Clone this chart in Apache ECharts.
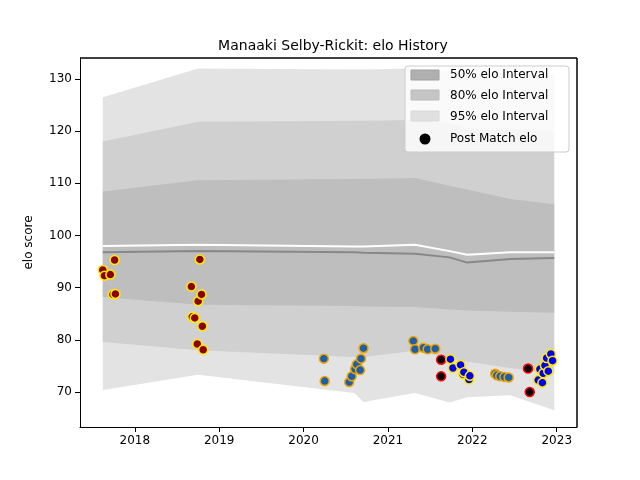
<!DOCTYPE html>
<html><head><meta charset="utf-8">
<script src="https://cdn.jsdelivr.net/npm/echarts@6/dist/echarts.min.js"></script>
<style>html,body{margin:0;background:#fff}#c{width:640px;height:480px}</style>
</head><body><div id="c"></div>
<script>
const bandX = [2017.62, 2018.75, 2020.60, 2020.71, 2021.32, 2021.73, 2021.94, 2022.45, 2022.97];
const up95 = [126.5,132,131.8,131.8,132,131.5,131,131,131];
const up80 = [118,121.8,122,122,122.1,121.5,120.5,120.5,120];
const up50 = [108.4,110.6,110.8,110.8,111,109.5,108.8,107,106];
const median = [96.8,97.0,96.8,96.7,96.5,95.8,94.8,95.5,95.7];
const meanLine = [98.0,98.2,97.9,97.9,98.2,97.0,96.3,96.8,96.8];
const lo50 = [88.2,86.7,86.5,86.4,86.3,85.8,85.6,85.4,85.2];
const lo80 = [79.6,78,76.7,76.7,77.9,76.5,75.8,74.6,73.6];
const lo95 = [70.4,73.3,69.8,68.1,69.8,68,69,69.4,66.5];
const ptsA = [[2017.62,93.4],[2017.64,92.3],[2017.71,92.5],[2017.74,88.7],[2017.77,88.8],[2017.76,95.3],[2018.67,90.2],[2018.68,84.4],[2018.71,84.2],[2018.74,79.2],[2018.75,87.4],[2018.77,95.4],[2018.79,88.7],[2018.8,82.6],[2018.81,78.1]];
const ptsB = [[2020.24,76.4],[2020.25,72.1],[2020.54,71.9],[2020.57,73.0],[2020.61,74.4],[2020.63,75.3],[2020.67,74.2],[2020.68,76.4],[2020.71,78.4],[2021.3,79.8],[2021.32,78.2],[2021.42,78.5],[2021.47,78.2],[2021.56,78.3],[2022.27,73.5],[2022.29,73.2],[2022.33,73.0],[2022.38,72.9],[2022.43,72.8]];
const ptsC = [[2021.63,76.2],[2021.63,73.0],[2022.66,74.5],[2022.68,70.0]];
const ptsD = [[2021.74,76.3],[2021.77,74.6],[2021.86,75.2],[2021.89,73.4],[2021.9,73.8],[2021.96,72.4],[2021.97,73.1],[2022.78,72.3],[2022.8,74.4],[2022.83,71.8],[2022.84,73.6],[2022.86,75.1],[2022.88,76.5],[2022.9,74.0],[2022.93,77.3],[2022.95,76.0]];
const xTicks = [2018,2019,2020,2021,2022,2023];
const yTicks = [70,80,90,100,110,120,130];

function band(lo, hi, color, name){
  return {type:'custom', name, silent:true, z:1, data:[0], renderItem(p, api){
    const pts=[];
    bandX.forEach((x,i)=>pts.push(api.coord([x,hi[i]])));
    for(let i=bandX.length-1;i>=0;i--) pts.push(api.coord([bandX[i],lo[i]]));
    return {type:'polygon', shape:{points:pts}, style:{fill:color}};
  }};
}
function line(vals,color,w){
  return {type:'line', data:bandX.map((x,i)=>[x,vals[i]]), symbol:'none', lineStyle:{color, width:w}, z:3, silent:true};
}
function sc(d, fill, edge){
  return {type:'scatter', data:d, symbolSize:9, itemStyle:{color:fill, borderColor:edge, borderWidth:1.5, opacity:1}, z:5};
}
const ax = {color:'#000', fontSize:12, fontFamily:'DejaVu Sans'};
const chart = echarts.init(document.getElementById('c'));
chart.setOption({
  animation:false,
  title:{text:'Manaaki Selby-Rickit: elo History', left:328, top:34, textAlign:'center', textStyle:{fontSize:14, fontWeight:'normal', fontFamily:'DejaVu Sans', color:'#000'}},
  grid:{left:80, right:63, top:58, bottom:53},
  xAxis:{type:'value', min:2017.35, max:2023.24, splitLine:{show:false},
    axisLine:{onZero:false, lineStyle:{color:'#000'}}, axisTick:{customValues:xTicks, lineStyle:{color:'#000'}},
    axisLabel:Object.assign({customValues:xTicks, formatter:v=>String(v)}, ax)},
  yAxis:{type:'value', min:63.3, max:134, name:'elo score', nameLocation:'middle', nameGap:45, nameTextStyle:ax,
    splitLine:{show:false}, axisLine:{show:true, lineStyle:{color:'#000'}}, axisTick:{show:true, customValues:yTicks, lineStyle:{color:'#000'}},
    axisLabel:Object.assign({customValues:yTicks}, ax)},
  graphic:[
    {type:'rect', shape:{x:577,y:58,width:0,height:369}, style:{stroke:'#000',fill:'none'}, z:10},
    {type:'rect', shape:{x:80,y:58,width:497,height:0}, style:{stroke:'#000',fill:'none'}, z:10},
    {type:'rect', shape:{x:405,y:66,width:164,height:86,r:3}, style:{fill:'rgba(255,255,255,0.8)',stroke:'#ccc'}, z:20},
    {type:'rect', shape:{x:411,y:70,width:28,height:10}, style:{fill:'#b0b0b0',stroke:'#a0a0a0'}, z:21},
    {type:'rect', shape:{x:411,y:90,width:28,height:10}, style:{fill:'#c5c5c5',stroke:'#bbb'}, z:21},
    {type:'rect', shape:{x:411,y:111,width:28,height:10}, style:{fill:'#e0e0e0',stroke:'#d8d8d8'}, z:21},
    {type:'circle', shape:{cx:425,cy:139,r:5.5}, style:{fill:'#000'}, z:21},
    {type:'text', x:450, y:75, style:{text:'50% elo Interval', fill:'#000', font:'12px DejaVu Sans', textVerticalAlign:'middle'}, z:21},
    {type:'text', x:450, y:96, style:{text:'80% elo Interval', fill:'#000', font:'12px DejaVu Sans', textVerticalAlign:'middle'}, z:21},
    {type:'text', x:450, y:117, style:{text:'95% elo Interval', fill:'#000', font:'12px DejaVu Sans', textVerticalAlign:'middle'}, z:21},
    {type:'text', x:450, y:139, style:{text:'Post Match elo', fill:'#000', font:'12px DejaVu Sans', textVerticalAlign:'middle'}, z:21}
  ],
  series:[
    band(lo95, up95, '#e3e3e3', '95'),
    band(lo80, up80, '#d0d0d0', '80'),
    band(lo50, up50, '#bebebe', '50'),
    line(median,'#888',2),
    line(meanLine,'#fff',2),
    sc(ptsA,'#8b0000','#ffeb00'),
    sc(ptsB,'#1f5fa8','#f0a500'),
    sc(ptsC,'#000','#ff0000'),
    sc(ptsD,'#0000ee','#ffeb00')
  ]
});
</script></body></html>
